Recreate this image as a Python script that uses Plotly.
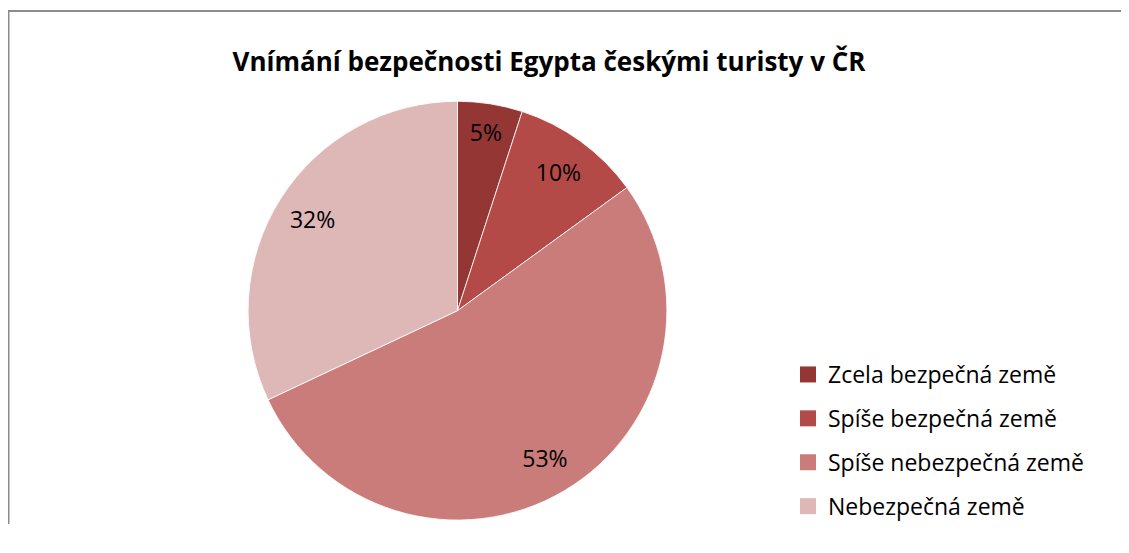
import plotly.graph_objects as go

title = "Vnímání bezpečnosti Egypta českými turisty v ČR"
labels = ["Zcela bezpečná země", "Spíše bezpečná země", "Spíše nebezpečná země", "Nebezpečná země"]
values = [5, 10, 53, 32]
colors = ["#943634", "#B44A47", "#C97C7A", "#DEB7B7"]

# page has 8px body margin; figure sized so no scrollbars appear
W, H = 1113, 520
cx, cy, r = 449.5, 305, 211
dom_x = [(cx - r) / W, (cx + r) / W]
dom_y = [1 - (cy + r) / H, 1 - (cy - r) / H]

FONT = "Open Sans"

fig = go.Figure()
fig.add_trace(go.Pie(
    labels=labels, values=values, sort=False, direction="clockwise", rotation=0,
    marker=dict(colors=colors, line=dict(color="white", width=0.8)),
    textinfo="none", domain=dict(x=dom_x, y=dom_y), showlegend=False,
))
fig.add_trace(go.Pie(
    labels=labels, values=values, sort=False, direction="clockwise", rotation=0,
    hole=0.64,
    marker=dict(colors=["rgba(0,0,0,0)"] * 4, line=dict(width=0)),
    texttemplate="%{percent:.0%}", textposition="inside", insidetextorientation="horizontal",
    textfont=dict(family=FONT, size=23, color="black"),
    domain=dict(x=dom_x, y=dom_y), showlegend=False, hoverinfo="skip",
))
# legend entries (one per category, separate groups for spacing)
for lab, col in zip(labels, colors):
    fig.add_trace(go.Scatter(
        x=[None], y=[None], mode="markers", name=lab, legendgroup=lab,
        marker=dict(symbol="square", size=16, color=col), hoverinfo="skip",
    ))

border = dict(color="#8C8C8C", width=2)
fig.update_layout(
    width=W, height=H,
    margin=dict(l=0, r=0, t=0, b=0),
    paper_bgcolor="white", plot_bgcolor="white",
    xaxis=dict(visible=False), yaxis=dict(visible=False),
    title=dict(text="<b>" + title + "</b>", x=541 / W, xanchor="center", y=1 - 54 / H, yanchor="middle",
               font=dict(family=FONT, size=26, color="black")),
    legend=dict(x=780 / W, xanchor="left", y=1 - 348 / H, yanchor="top",
                font=dict(family=FONT, size=23, color="black"), traceorder="grouped",
                tracegroupgap=11, bgcolor="rgba(0,0,0,0)"),
    shapes=[
        dict(type="line", xref="paper", yref="paper", x0=0.5 / W, x1=0.5 / W, y0=0, y1=1 - 3 / H, line=border),
        dict(type="line", xref="paper", yref="paper", x0=0, x1=1, y0=1 - 3 / H, y1=1 - 3 / H, line=border),
    ],
)

fig.write_html("out.html")
